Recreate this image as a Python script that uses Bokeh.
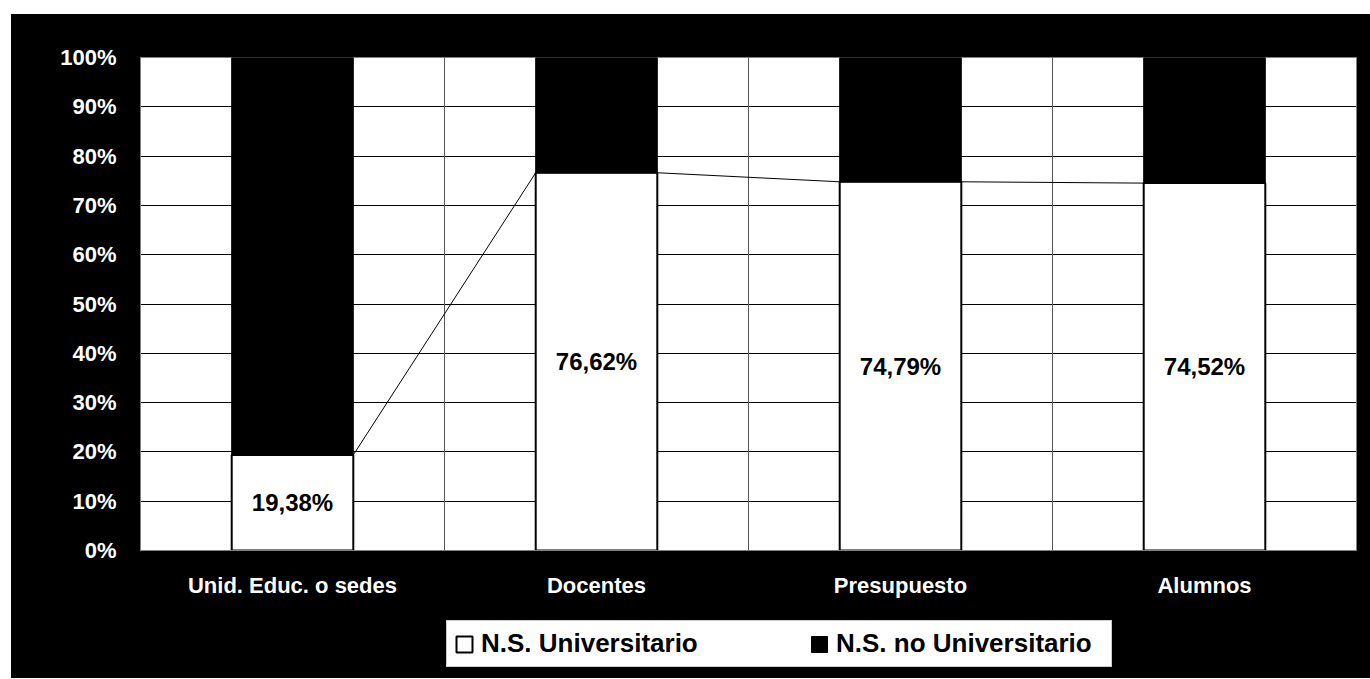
from bokeh.plotting import figure
from bokeh.layouts import column
from bokeh.models import (ColumnDataSource, FactorRange, Range1d, FixedTicker,
                          PrintfTickFormatter, Span, Legend, LegendItem)
from bokeh.transform import dodge
from bokeh.core.properties import value
from bokeh.embed import file_html
from bokeh.resources import INLINE

categories = ["Unid. Educ. o sedes", "Docentes", "Presupuesto", "Alumnos"]
universitario = [19.38, 76.62, 74.79, 74.52]
no_universitario = [80.62, 23.38, 25.21, 25.48]
y_ticks = [0, 10, 20, 30, 40, 50, 60, 70, 80, 90, 100]
series_names = ["N.S. Universitario", "N.S. no Universitario"]

FONT = "Liberation Sans"

src = ColumnDataSource(dict(
    cat=categories,
    univ=universitario,
    nouniv=no_universitario,
    mid=[v / 2 for v in universitario],
    lbl=[("%.2f" % v).replace(".", ",") + "%" for v in universitario],
))
seg = ColumnDataSource(dict(
    c0=categories[:-1], c1=categories[1:],
    v0=universitario[:-1], v1=universitario[1:],
))

bar_styles = dict(fill_color=["white", "black"], line_color=["black", "black"],
                  line_width=[2, 1])

# ---------------- main chart ----------------
p = figure(x_range=FactorRange(*categories), y_range=Range1d(0, 100),
           width=1359, height=591, output_backend="svg", toolbar_location=None,
           min_border_left=129, min_border_right=14, min_border_top=43,
           min_border_bottom=55)
p.border_fill_color = "black"
p.background_fill_color = "white"
p.outline_line_color = "#808080"
p.outline_line_width = 1

p.xgrid.grid_line_color = None
p.ygrid.ticker = FixedTicker(ticks=y_ticks)
p.ygrid.grid_line_color = "black"
p.ygrid.grid_line_width = 1
for loc in [1, 2, 3]:
    p.add_layout(Span(location=loc, dimension="height", line_color="#555555",
                      line_width=1, level="underlay"))

p.vbar_stack(["univ", "nouniv"], x="cat", width=0.4, source=src, **bar_styles)

p.segment(x0=dodge("c0", 0.2, range=p.x_range), y0="v0",
          x1=dodge("c1", -0.2, range=p.x_range), y1="v1",
          source=seg, line_color="black", line_width=1)

p.text(x="cat", y="mid", text="lbl", source=src, text_align="center",
       text_baseline="middle", text_font=value(FONT), text_font_style="bold",
       text_font_size="24px", text_color="black")

p.yaxis.ticker = FixedTicker(ticks=y_ticks)
p.yaxis.formatter = PrintfTickFormatter(format="%d%%")
for ax in (p.xaxis[0], p.yaxis[0]):
    ax.axis_line_color = "#808080"
    ax.major_tick_line_color = None
    ax.minor_tick_line_color = None
    ax.major_label_text_color = "white"
    ax.major_label_text_font = FONT
    ax.major_label_text_font_style = "bold"
    ax.major_label_text_font_size = "22px"
p.yaxis.major_label_standoff = 18
p.xaxis.major_label_standoff = 16

# ---------------- legend strip ----------------
p2 = figure(x_range=FactorRange(*categories), y_range=Range1d(200, 300),
            width=1359, height=73, output_backend="svg", toolbar_location=None,
            x_axis_location=None, y_axis_location=None,
            min_border_left=129, min_border_right=14,
            min_border_top=0, min_border_bottom=0)
p2.border_fill_color = "black"
p2.background_fill_color = "black"
p2.outline_line_color = None
p2.grid.grid_line_color = None
legend_renderers = p2.vbar_stack(["univ", "nouniv"], x="cat", width=0.4,
                                 source=src, **bar_styles)

legend = Legend(items=[LegendItem(label=series_names[0], renderers=[legend_renderers[0]]),
                       LegendItem(label=series_names[1], renderers=[legend_renderers[1]])],
                orientation="horizontal", location=(306, 11),
                glyph_width=20, glyph_height=20, label_standoff=7, spacing=60,
                label_width=268, padding=7, margin=0,
                label_text_font=FONT, label_text_font_style="bold",
                label_text_font_size="26px", label_text_color="black",
                background_fill_color="white", background_fill_alpha=1,
                border_line_color="#999999", border_line_width=1)
p2.add_layout(legend, "center")

layout = column(p, p2, spacing=0, margin=(14, 0, 0, 11),
                styles={"background-color": "black"})
open("out.html", "w").write(file_html(layout, INLINE))
